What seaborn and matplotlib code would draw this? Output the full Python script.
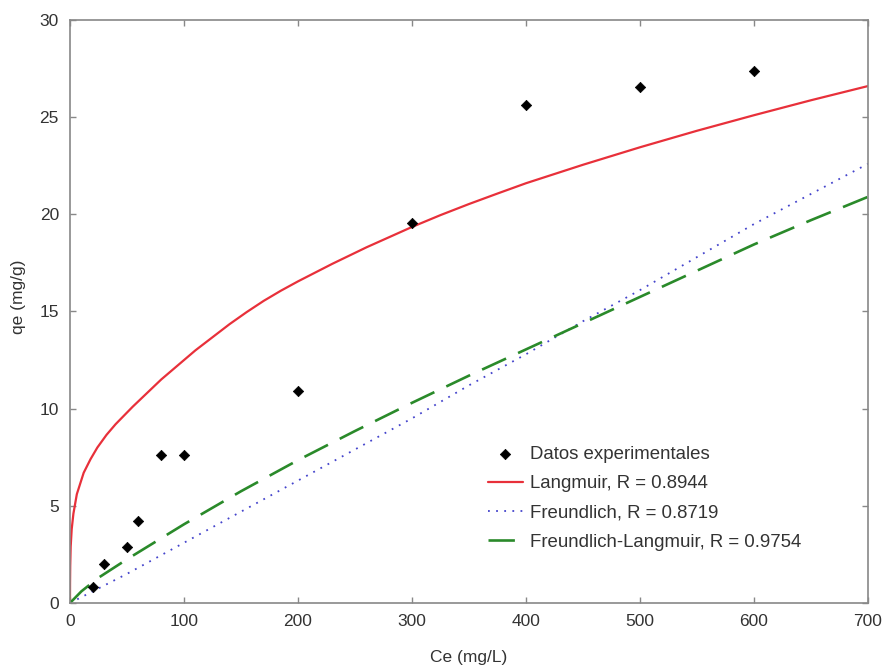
import matplotlib
matplotlib.use("Agg")
import matplotlib.pyplot as plt
import seaborn as sns
import pandas as pd

# Experimental isotherm data
ce_exp = [20, 30, 50, 60, 80, 100, 200, 300, 400, 500, 600]
qe_exp = [0.8, 2.0, 2.9, 4.2, 7.6, 7.6, 10.9, 19.55, 25.65, 26.55, 27.4]

# Langmuir model curve
ce_lang = [0, 0.05, 0.2, 0.6, 1.5, 3, 6, 12, 18, 24, 32, 40, 55, 80, 110,
           140, 155, 170, 185, 200, 230, 260, 300, 325, 350, 375, 400, 450,
           500, 550, 600, 650, 700]
qe_lang = [0, 1.0, 1.9, 2.9, 3.8, 4.6, 5.6, 6.7, 7.4, 8.0, 8.65, 9.2, 10.1,
           11.5, 13.0, 14.35, 14.97, 15.55, 16.07, 16.55, 17.45, 18.3, 19.35,
           19.96, 20.53, 21.07, 21.6, 22.55, 23.45, 24.3, 25.1, 25.87, 26.6]

# Freundlich model curve
ce_freu = [0, 50, 100, 150, 200, 250, 300, 350, 400, 450, 500, 550, 600, 650, 700]
qe_freu = [0, 1.5, 3.1, 4.7, 6.3, 7.9, 9.5, 11.2, 12.8, 14.5, 16.1, 17.8,
           19.5, 21.05, 22.6]

# Freundlich-Langmuir model curve
ce_fl = [0, 10, 25, 50, 75, 100, 150, 200, 250, 300, 350, 400, 450, 500,
         550, 600, 650, 700]
qe_fl = [0, 0.6, 1.3, 2.25, 3.15, 4.05, 5.75, 7.35, 8.85, 10.3, 11.7, 13.05,
         14.4, 15.75, 17.1, 18.45, 19.7, 20.9]

labels = ["Datos experimentales", "Langmuir, R = 0.8944",
          "Freundlich, R = 0.8719", "Freundlich-Langmuir, R = 0.9754"]
x_ticks = [0, 100, 200, 300, 400, 500, 600, 700]
y_ticks = [0, 5, 10, 15, 20, 25, 30]

sns.set_theme(style="white")
plt.rcParams["font.family"] = ["Liberation Sans", "DejaVu Sans"]

fig = plt.figure(figsize=(8.86, 6.66), dpi=100)
ax = fig.add_axes([0.079, 0.0946, 0.9007, 0.8754])

exp_df = pd.DataFrame({"Ce": ce_exp, "qe": qe_exp})
lang_df = pd.DataFrame({"Ce": ce_lang, "qe": qe_lang})
freu_df = pd.DataFrame({"Ce": ce_freu, "qe": qe_freu})
fl_df = pd.DataFrame({"Ce": ce_fl, "qe": qe_fl})

sns.scatterplot(data=exp_df, x="Ce", y="qe", ax=ax, marker="D", s=28,
                color="black", edgecolor="black", linewidth=0.5,
                label=labels[0], zorder=5)
sns.lineplot(data=lang_df, x="Ce", y="qe", ax=ax, color="#e8303a",
             linewidth=1.6, sort=False, label=labels[1])
sns.lineplot(data=freu_df, x="Ce", y="qe", ax=ax, color="#4444cc",
             linewidth=1.3, linestyle=(0, (1, 3.5)), sort=False,
             label=labels[2])
sns.lineplot(data=fl_df, x="Ce", y="qe", ax=ax, color="#2a8a2a",
             linewidth=1.9, linestyle=(0, (10, 5)), sort=False,
             label=labels[3])

ax.set_xlim(0, 700)
ax.set_ylim(0, 30)
ax.set_xticks(x_ticks)
ax.set_yticks(y_ticks)
ax.set_xlabel("Ce (mg/L)", fontsize=12.5, color="#333333", labelpad=15)
ax.set_ylabel("qe (mg/g)", fontsize=12.5, color="#333333", labelpad=10)
ax.yaxis.set_label_coords(-0.055, 0.525)

for side in ["left", "right", "top", "bottom"]:
    ax.spines[side].set_visible(True)
    ax.spines[side].set_color("#888888")
    ax.spines[side].set_linewidth(1.2)

ax.tick_params(axis="both", which="both", direction="in", length=4,
               width=1, color="#888888", labelsize=12.5,
               labelcolor="#333333", top=True, right=True,
               bottom=True, left=True, pad=8)

leg = ax.legend(loc="upper left", bbox_to_anchor=(0.503, 0.298),
                frameon=False, fontsize=13.4, handlelength=1.85,
                handletextpad=0.4, labelspacing=0.66, borderpad=0.4)
for t in leg.get_texts():
    t.set_color("#333333")

fig.savefig("out.png", dpi=100)
